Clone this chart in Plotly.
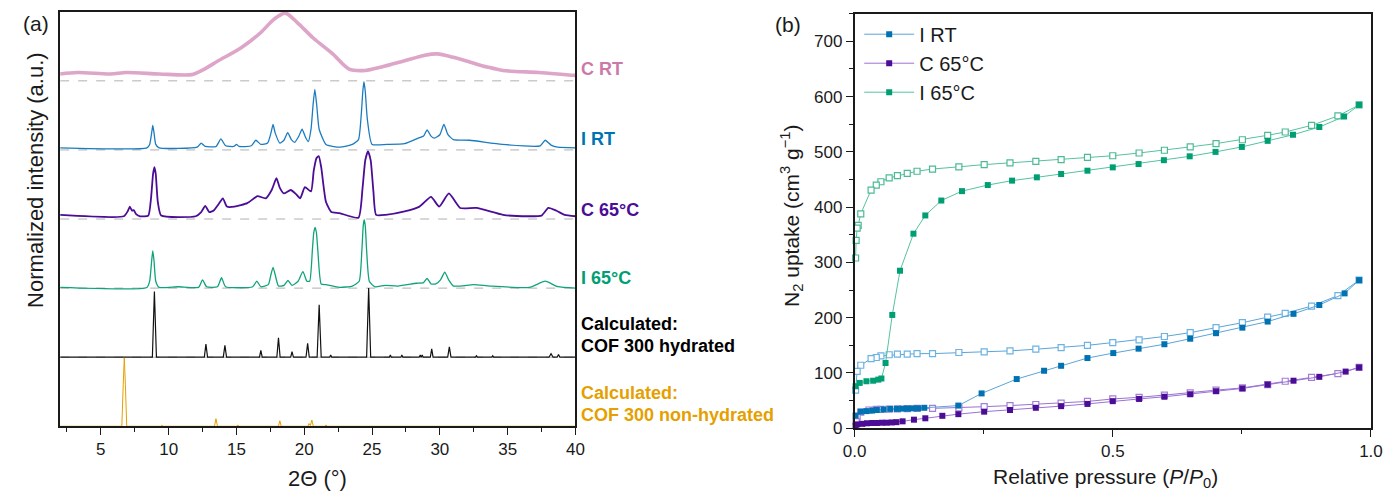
import plotly.graph_objects as go

W, H = 1397, 499
FONT = "Liberation Sans, Arial, sans-serif"

# ---------------- (a) XRD data (normalized intensity above own baseline) ----------------
trace_names = ["C RT", "I RT", "C 65°C", "I 65°C", "hyd", "nonhyd"]
offsets = [5, 4, 3, 2, 1, 0]

x_crt = [2.0, 3.3, 5.7, 6.9, 9.3, 11.7, 12.45, 13.66, 15.35, 16.8, 17.76, 18.6, 19.45, 20.66,
         22.1, 23.3, 24.5, 25.7, 27.4, 28.9, 29.8, 31.0, 32.25, 33.5, 34.66, 37.3, 39.85, 40.0]
y_crt = [0.10, 0.12, 0.10, 0.12, 0.10, 0.09, 0.15, 0.29, 0.48, 0.70, 0.89, 0.98, 0.85, 0.62,
         0.39, 0.17, 0.15, 0.20, 0.29, 0.37, 0.39, 0.34, 0.27, 0.20, 0.15, 0.12, 0.08, 0.08]

x_irt = [2.0, 8.4, 8.6, 8.75, 8.83, 8.92, 9.05, 9.3, 12.1, 12.4, 12.7, 13.5, 13.85, 14.2, 14.8,
         15.0, 15.2, 16.1, 16.43, 16.8, 17.3, 17.55, 17.7, 17.85, 18.2, 18.5, 18.78, 19.05, 19.3,
         19.6, 19.84, 20.1, 20.3, 20.5, 20.65, 20.78, 20.92, 21.1, 21.6, 22.6, 23.55, 24.0, 24.2,
         24.32, 24.4, 24.5, 24.65, 25.0, 26.1, 27.4, 28.4, 28.8, 29.06, 29.35, 29.6, 30.0, 30.3,
         30.6, 31.0, 32.2, 34.6, 37.4, 37.77, 38.2, 38.7, 40.0]
y_irt = [0.03, 0.03, 0.08, 0.25, 0.355, 0.25, 0.08, 0.03, 0.04, 0.10, 0.05, 0.05, 0.16, 0.06, 0.05,
         0.08, 0.05, 0.06, 0.14, 0.08, 0.10, 0.25, 0.37, 0.25, 0.10, 0.14, 0.25, 0.15, 0.11,
         0.20, 0.30, 0.18, 0.12, 0.30, 0.65, 0.875, 0.65, 0.30, 0.08, 0.04, 0.08, 0.15, 0.50,
         0.85, 0.99, 0.85, 0.45, 0.08, 0.08, 0.09, 0.17, 0.20, 0.29, 0.20, 0.17, 0.22, 0.37,
         0.22, 0.15, 0.14, 0.08, 0.06, 0.14, 0.07, 0.04, 0.03]

x_c65 = [2.0, 6.7, 7.0, 7.14, 7.3, 7.43, 7.6, 7.9, 8.5, 8.7, 8.85, 8.95, 9.05, 9.2, 9.45, 12.0,
         12.4, 12.7, 13.0, 13.3, 13.7, 14.0, 14.3, 14.86, 15.8, 16.55, 17.16, 17.6, 17.95, 18.2,
         18.5, 19.0, 19.4, 19.7, 20.05, 20.5, 20.7, 20.9, 21.07, 21.25, 21.6, 22.0, 22.6, 24.0,
         24.3, 24.5, 24.7, 24.9, 25.1, 25.3, 26.0, 27.4, 28.5, 29.35, 29.95, 30.67, 31.5, 32.7,
         34.66, 36.5, 37.5, 38.0, 38.6, 39.2, 40.0]
y_c65 = [0.06, 0.04, 0.12, 0.18, 0.12, 0.13, 0.07, 0.04, 0.05, 0.30, 0.65, 0.75, 0.65, 0.25, 0.05, 0.04,
         0.10, 0.19, 0.10, 0.12, 0.22, 0.30, 0.18, 0.18, 0.23, 0.33, 0.30, 0.42, 0.59, 0.45,
         0.37, 0.42, 0.36, 0.30, 0.46, 0.40, 0.70, 0.88, 0.91, 0.75, 0.25, 0.10, 0.085, 0.02,
         0.45, 0.85, 0.98, 0.85, 0.40, 0.06, 0.06, 0.11, 0.18, 0.32, 0.18, 0.37, 0.16, 0.16,
         0.06, 0.04, 0.05, 0.16, 0.12, 0.06, 0.04]

x_i65 = [2.0, 8.4, 8.6, 8.75, 8.83, 8.92, 9.05, 9.3, 10.7, 12.2, 12.5, 12.8, 13.6, 13.9, 14.2,
         16.2, 16.5, 16.8, 17.35, 17.55, 17.7, 17.85, 18.1, 18.5, 18.8, 19.1, 19.55, 19.9, 20.2,
         20.4, 20.6, 20.7, 20.8, 20.9, 21.0, 21.25, 21.6, 22.6, 23.55, 24.05, 24.25, 24.35, 24.42,
         24.5, 24.6, 24.8, 25.2, 25.97, 26.9, 28.26, 28.8, 29.06, 29.35, 29.7, 30.05, 30.36,
         30.65, 31.0, 32.5, 33.7, 36.6, 37.77, 38.7, 40.0]
y_i65 = [0.01, 0.01, 0.10, 0.40, 0.54, 0.40, 0.10, 0.01, 0.02, 0.01, 0.12, 0.02, 0.02, 0.15, 0.02,
         0.02, 0.10, 0.02, 0.05, 0.20, 0.30, 0.20, 0.03, 0.04, 0.11, 0.04, 0.10, 0.24, 0.10,
         0.10, 0.55, 0.80, 0.88, 0.80, 0.55, 0.06, 0.05, 0.01, 0.03, 0.10, 0.55, 0.90, 0.99,
         0.90, 0.55, 0.10, 0.02, 0.04, 0.03, 0.07, 0.08, 0.14, 0.06, 0.06, 0.12, 0.23,
         0.12, 0.03, 0.05, 0.03, 0.01, 0.10, 0.02, 0.0]

x_hyd = [2.0,
         8.8, 8.95, 9.1,
         12.63, 12.75, 12.87,
         14.03, 14.15, 14.27,
         16.7, 16.8, 16.9,
         17.98, 18.1, 18.22,
         19.0, 19.1, 19.2,
         20.13, 20.25, 20.37,
         20.95, 21.1, 21.25,
         21.87, 21.95, 22.03,
         24.6, 24.75, 24.9,
         26.28, 26.35, 26.42,
         27.13, 27.2, 27.27,
         28.48, 28.55, 28.62, 28.7, 28.77,
         29.3, 29.4, 29.5,
         30.58, 30.7, 30.82,
         32.63, 32.7, 32.77,
         33.83, 33.9, 33.97,
         38.05, 38.2, 38.35,
         38.65, 38.75, 38.85,
         40.0]
y_hyd = [0,
         0, 0.95, 0,
         0, 0.19, 0,
         0, 0.17, 0,
         0, 0.10, 0,
         0, 0.28, 0,
         0, 0.08, 0,
         0, 0.20, 0,
         0, 0.76, 0,
         0, 0.03, 0,
         0, 1.0, 0,
         0, 0.03, 0,
         0, 0.03, 0,
         0, 0.03, 0, 0.03, 0,
         0, 0.12, 0,
         0, 0.15, 0,
         0, 0.02, 0,
         0, 0.02, 0,
         0, 0.05, 0,
         0, 0.04, 0,
         0]

x_non = [2.0, 6.55, 6.65, 6.73, 6.81, 6.91, 9.42, 9.5, 9.58, 13.38, 13.49, 13.6, 15.02, 15.1,
         15.18, 18.1, 18.2, 18.3, 20.27, 20.35, 20.45, 20.56, 20.67, 21.52, 21.6, 21.68, 40.0]
y_non = [0, 0, 0.6, 0.99, 0.6, 0, 0, 0.015, 0, 0, 0.11, 0, 0, 0.02,
         0, 0, 0.08, 0, 0, 0.04, 0.01, 0.09, 0, 0, 0.02, 0, 0]

xrd_x = [x_crt, x_irt, x_c65, x_i65, x_hyd, x_non]
xrd_y = [y_crt, y_irt, y_c65, y_i65, y_hyd, y_non]
xrd_colors = ["rgba(210,135,180,0.75)", "#1B7BBF", "#4B0C96", "#10A37A", "#111111", "#E69F00"]
xrd_widths = [3.6, 1.3, 1.8, 1.3, 1.2, 1.0]
xrd_shape = ["spline", "spline", "spline", "spline", "linear", "linear"]
xrd_smooth = [0.8, 0.5, 0.5, 0.5, 0, 0]

# right-hand labels of panel (a): one list entry per text line
label_lines = ["C RT", "I RT", "C 65°C", "I 65°C",
               "Calculated:", "COF 300 hydrated", "Calculated:", "COF 300 non-hydrated"]
label_line_colors = ["#CC79A7", "#0072B2", "#4B0C96", "#009E73",
                     "#000000", "#000000", "#E69F00", "#E69F00"]
label_line_y = [70, 142, 214, 284, 331, 353, 401, 423]

# ---------------- (b) N2 isotherms ----------------
irt_ads_p = [0.002, 0.012, 0.023, 0.034, 0.043, 0.056, 0.069, 0.082, 0.093, 0.103, 0.113, 0.123,
             0.135, 0.201, 0.246, 0.314, 0.367, 0.400, 0.451, 0.501, 0.550, 0.600, 0.650, 0.700,
             0.751, 0.800, 0.850, 0.900, 0.949, 0.977]
irt_ads_v = [23, 30, 31, 32, 33, 34, 35, 35, 35.5, 35.5, 36, 36,
             37, 41, 63, 89, 104, 113, 127, 136, 144, 152, 162, 172,
             182, 193, 207, 223, 244, 268]
irt_des_p = [0.977, 0.936, 0.885, 0.834, 0.800, 0.751, 0.700, 0.650, 0.600, 0.551, 0.500, 0.451,
             0.400, 0.351, 0.301, 0.251, 0.202, 0.151, 0.121, 0.102, 0.083, 0.067, 0.051, 0.042,
             0.032, 0.012, 0.005, 0.002]
irt_des_v = [268, 240, 221, 208, 201, 191, 182, 173, 166, 160, 155, 150,
             146, 143, 140, 138, 137, 135, 135, 134, 134, 133, 131, 128,
             126, 114, 103, 69]

c65_ads_p = [0.002, 0.005, 0.015, 0.024, 0.034, 0.043, 0.053, 0.062, 0.072, 0.081, 0.093, 0.115,
             0.137, 0.170, 0.201, 0.251, 0.301, 0.351, 0.400, 0.451, 0.500, 0.551, 0.600, 0.650,
             0.700, 0.751, 0.800, 0.850, 0.900, 0.951, 0.977]
c65_ads_v = [5, 7, 8, 9, 9.5, 9.5, 10, 10, 10.5, 11, 12.5, 15.5,
             18, 22.5, 25.5, 30, 33, 37, 40, 44, 49, 53, 57, 61.5,
             67, 72, 79, 86, 93, 102.5, 110]
c65_des_p = [0.977, 0.936, 0.885, 0.834, 0.800, 0.751, 0.700, 0.650, 0.600, 0.551, 0.500, 0.451,
             0.400, 0.351, 0.301, 0.251, 0.202, 0.151, 0.121, 0.102, 0.083, 0.067, 0.051, 0.042,
             0.028, 0.012, 0.005, 0.003]
c65_des_v = [110, 99, 92, 85, 79, 73, 69, 64, 60, 56, 53, 48.5,
             45.5, 43, 41, 39, 37, 36, 36, 35.5, 35, 34.5, 34, 34,
             33, 29, 20, 12]

i65_ads_p = [0.002, 0.010, 0.023, 0.036, 0.046, 0.052, 0.060, 0.073, 0.088, 0.114, 0.137, 0.168,
             0.208, 0.258, 0.305, 0.353, 0.400, 0.451, 0.500, 0.550, 0.599, 0.649, 0.699, 0.750,
             0.800, 0.849, 0.900, 0.948, 0.977]
i65_ads_v = [76, 82, 85, 86, 88, 90, 118, 205, 285, 352, 385, 412,
             429, 440, 448, 454, 460, 466, 472, 478, 485, 492, 500, 509,
             520, 531, 545, 564, 585]
i65_des_p = [0.977, 0.936, 0.885, 0.834, 0.800, 0.751, 0.700, 0.650, 0.600, 0.551, 0.500, 0.451,
             0.400, 0.351, 0.301, 0.251, 0.202, 0.151, 0.121, 0.102, 0.083, 0.067, 0.051, 0.042,
             0.032, 0.012, 0.007, 0.005, 0.003, 0.002]
i65_des_v = [585, 565, 548, 536, 530, 522, 515, 509, 503, 498, 493, 490,
             486, 483, 480, 477, 473, 469, 465, 461, 457, 453, 446, 440,
             431, 388, 367, 362, 340, 308]

iso_names = ["I RT", "C 65°C", "I 65°C"]
iso_ads = [(irt_ads_p, irt_ads_v), (c65_ads_p, c65_ads_v), (i65_ads_p, i65_ads_v)]
iso_des = [(irt_des_p, irt_des_v), (c65_des_p, c65_des_v), (i65_des_p, i65_des_v)]
iso_marker = ["#0072B2", "#4B0C96", "#009E73"]
iso_line = ["#5AA5D6", "#9A72D2", "#55C2A2"]
iso_open = ["#6CB2E2", "#A37ED8", "#4DBA95"]


def px(x):
    return x / W


def py(y):
    return 1 - y / H


fig = go.Figure()

# baselines (dashed)
for k, off in enumerate(offsets):
    if off > 0:
        fig.add_trace(go.Scatter(x=[2, 40], y=[off, off], mode="lines",
                                 line=dict(color="#b0b0b0", width=1, dash="dash"),
                                 xaxis="x", yaxis="y", showlegend=False, hoverinfo="skip"))

for k in range(len(xrd_x)):
    line = dict(color=xrd_colors[k], width=xrd_widths[k], shape=xrd_shape[k])
    if xrd_shape[k] == "spline":
        line["smoothing"] = xrd_smooth[k]
    fig.add_trace(go.Scatter(x=xrd_x[k], y=[v + offsets[k] for v in xrd_y[k]], mode="lines",
                             line=line, xaxis="x", yaxis="y", showlegend=False,
                             name=trace_names[k]))

# isotherms: desorption (open) first, adsorption (filled) on top
for k in range(3):
    p, v = iso_des[k]
    fig.add_trace(go.Scatter(x=p, y=v, mode="lines+markers", xaxis="x2", yaxis="y2",
                             line=dict(color=iso_line[k], width=1),
                             marker=dict(symbol="square", size=6, color="white",
                                         line=dict(color=iso_open[k], width=1.2)),
                             showlegend=False, cliponaxis=False))
for k in range(3):
    p, v = iso_ads[k]
    fig.add_trace(go.Scatter(x=p, y=v, mode="lines+markers", xaxis="x2", yaxis="y2",
                             name=iso_names[k], legendrank=k + 1,
                             line=dict(color=iso_line[k], width=1),
                             marker=dict(symbol="square", size=6, color=iso_marker[k]),
                             showlegend=True, cliponaxis=False))

axis_common = dict(showline=True, linecolor="#1a1a1a", linewidth=1.5, mirror=True,
                   showgrid=False, zeroline=False, ticks="outside", ticklen=7, tickwidth=1.3,
                   tickcolor="#1a1a1a", tickfont=dict(family=FONT, size=17, color="#1a1a1a"))

fig.update_layout(
    width=W, height=H, margin=dict(l=0, r=0, t=0, b=0),
    paper_bgcolor="white", plot_bgcolor="white",
    font=dict(family=FONT, color="#1a1a1a"),
    xaxis=dict(domain=[px(49), px(573.3)], range=[2, 40], dtick=5, tick0=0,
               minor=dict(dtick=2.5, tick0=0, ticks="outside", ticklen=4, tickcolor="#1a1a1a"),
               anchor="y", **axis_common),
    yaxis=dict(domain=[py(435), py(12)], range=[0, 6], showticklabels=False,
               anchor="x", **{**axis_common, "ticks": ""}),
    xaxis2=dict(domain=[px(857.3), px(1382.7)], range=[0, 1.0], dtick=0.5, tickformat=".1f",
                minor=dict(dtick=0.25, ticks="outside", ticklen=4, tickcolor="#1a1a1a"),
                anchor="y2", **axis_common),
    yaxis2=dict(domain=[py(437), py(14)], range=[0, 750], dtick=100,
                minor=dict(dtick=50, ticks="outside", ticklen=4, tickcolor="#1a1a1a"),
                anchor="x2", **axis_common),
    legend=dict(x=px(862), y=py(15), xanchor="left", yanchor="top", bgcolor="rgba(0,0,0,0)",
                font=dict(family=FONT, size=20, color="#1a1a1a"), itemwidth=50,
                tracegroupgap=0),
)

ann = []
for k in range(len(label_lines)):
    ann.append(dict(x=px(577), y=py(label_line_y[k]), xref="paper", yref="paper",
                    xanchor="left", yanchor="middle", showarrow=False,
                    text="<b>" + label_lines[k] + "</b>",
                    font=dict(family=FONT, size=18, color=label_line_colors[k])))
extra = [
    dict(x=px(24), y=py(24), text="(a)", font=dict(family=FONT, size=21)),
    dict(x=px(790), y=py(25), text="(b)", font=dict(family=FONT, size=21)),
    dict(x=px(24), y=py(184), text="Normalized intensity (a.u.)", textangle=-90,
         font=dict(family=FONT, size=22)),
    dict(x=px(311), y=py(488), text="2Θ (°)", font=dict(family=FONT, size=22)),
    dict(x=px(793), y=py(220), text="N<sub>2</sub> uptake (cm<sup>3</sup> g<sup>−1</sup>)",
         textangle=-90, font=dict(family=FONT, size=21)),
    dict(x=px(1113), y=py(488), text="Relative pressure (<i>P</i>/<i>P</i><sub>0</sub>)",
         font=dict(family=FONT, size=21)),
]
for a in extra:
    a.update(xref="paper", yref="paper", xanchor="center", yanchor="middle", showarrow=False)
fig.update_layout(annotations=ann + extra)

fig.write_html("out.html", config={"displayModeBar": False},
               post_script="document.body.style.margin='0px';document.body.style.overflow='hidden';")
